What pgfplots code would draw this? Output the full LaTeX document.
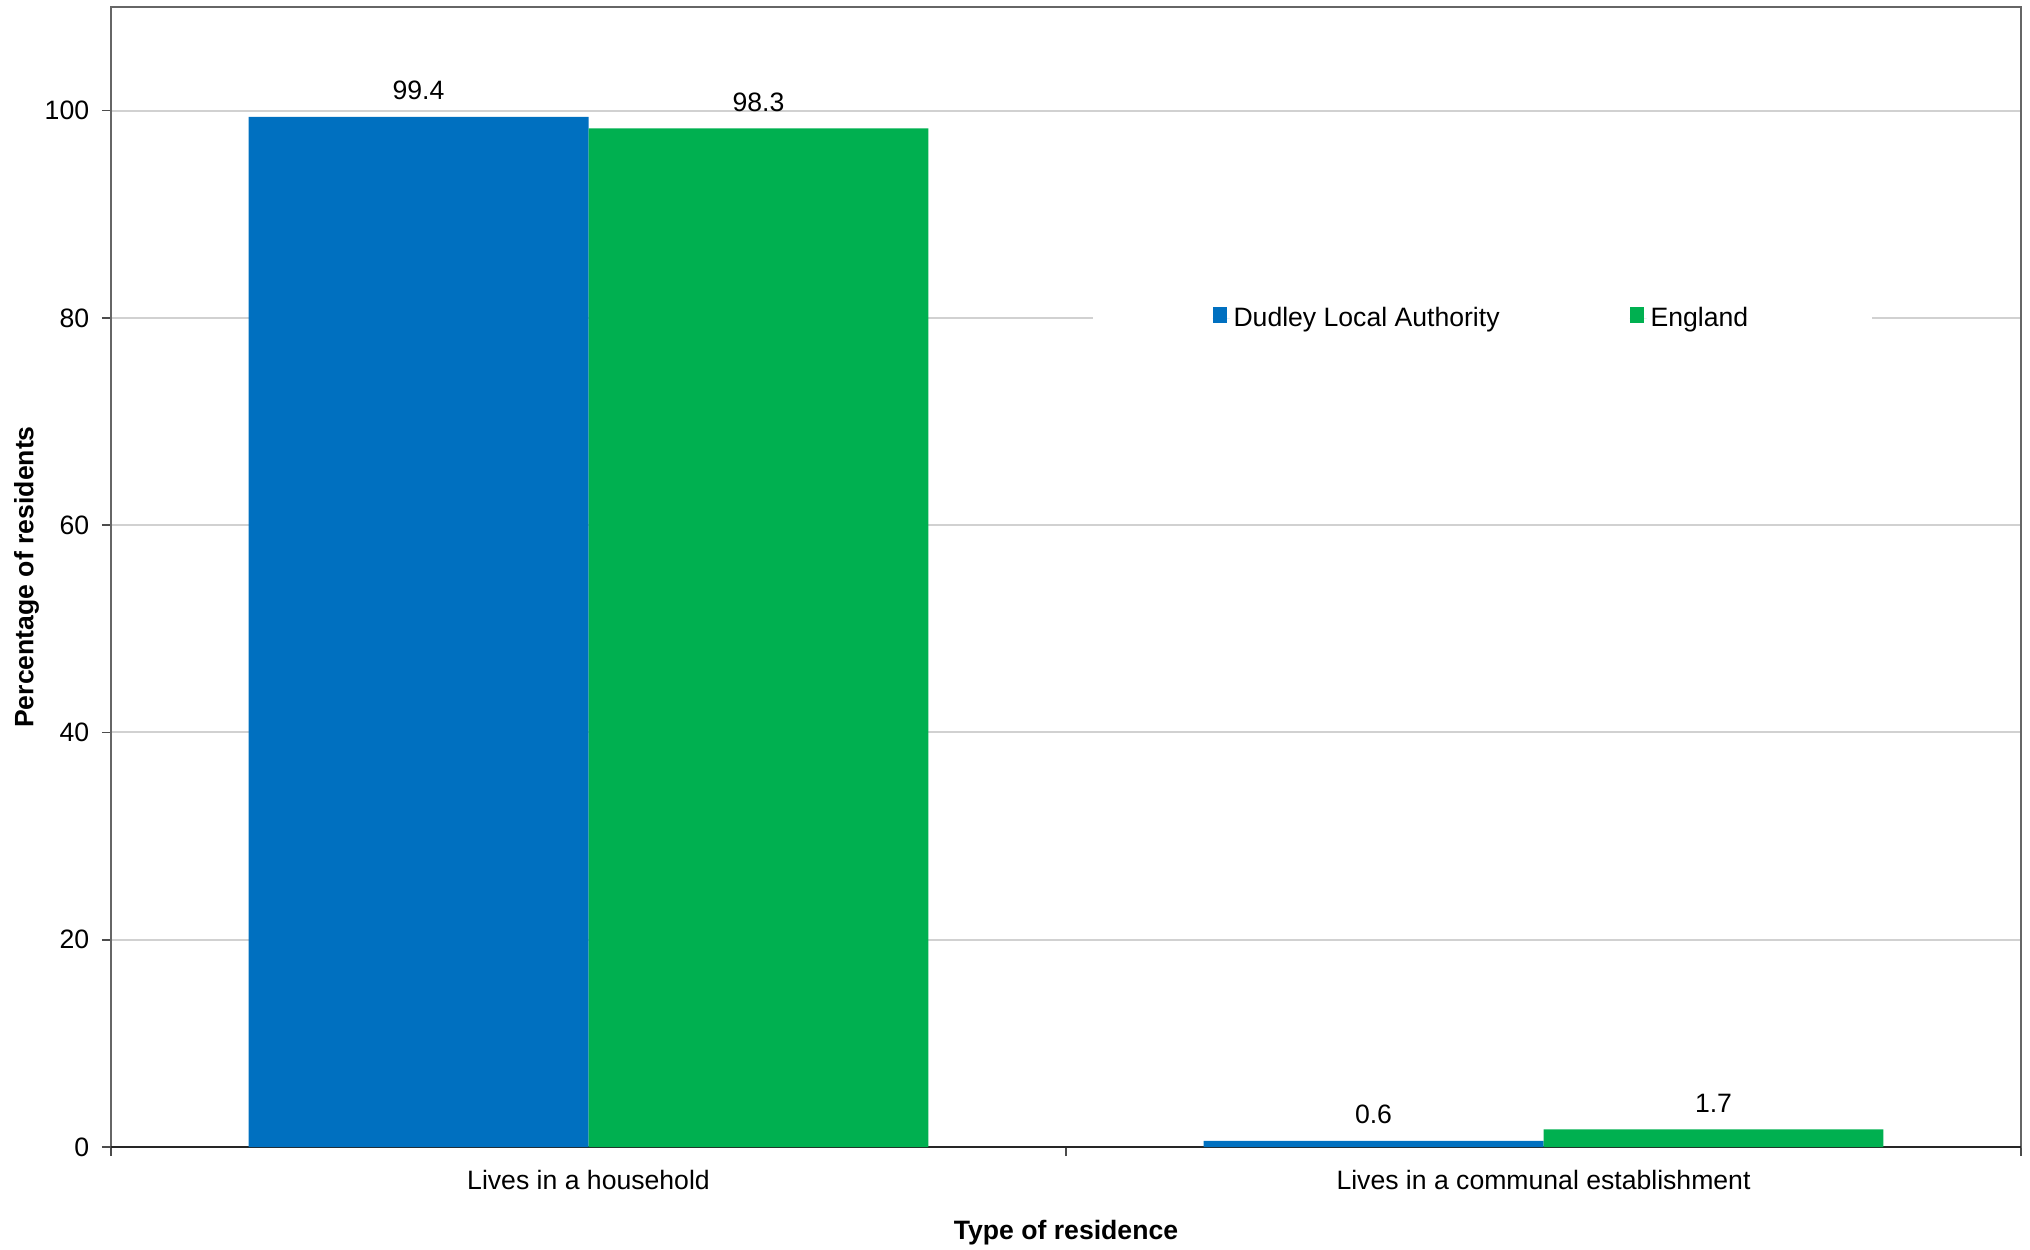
\documentclass[border=0pt]{standalone}
\usepackage{pgfplots}
\pgfplotsset{compat=1.18}
\usepackage{fontspec}
\setmainfont{Liberation Sans}
\definecolor{dblue}{HTML}{0070C0}
\definecolor{egreen}{HTML}{00B050}
\begin{document}
\begin{tikzpicture}[font=\fontsize{13.3pt}{16pt}\selectfont]
\begin{axis}[
  name=ax,
  width=955pt, height=570pt, scale only axis,
  /pgf/number format/assume math mode=true,
  ybar=0pt, bar width=0.356,
  xmin=-0.5, xmax=1.5, ymin=0, ymax=110,
  xtick={-0.5,0.5,1.5}, xticklabels={},
  extra x ticks={0,1},
  extra x tick labels={Lives in a household, Lives in a communal establishment},
  extra x tick style={major tick length=0pt, grid=none, xticklabel style={yshift=-8pt}},
  ytick={20,40,60,80,100},
  extra y ticks={0}, extra y tick labels={0},
  extra y tick style={ymajorgrids=true, major grid style={draw=black!85, line width=1.2pt}},
  ymajorgrids, grid style={draw=black!18, line width=1pt},
  xtick pos=bottom, ytick pos=left,
  tick align=outside, major tick length=4.5pt,
  tick style={draw=black!70, line width=0.8pt},
  axis line style={draw=black!60, line width=1pt},
  yticklabel style={xshift=-2.9pt},
  ylabel={\textbf{Percentage of residents}},
  xlabel={\textbf{Type of residence}},
  ylabel style={at={([xshift=-38.75pt]axis description cs:0,0.5)}, anchor=base, inner sep=0pt},
  xlabel style={at={([yshift=-46.25pt]axis description cs:0.5,0)}, anchor=base, inner sep=0pt},
  nodes near coords,
  nodes near coords style={/pgf/number format/fixed, /pgf/number format/precision=1, yshift=4.8pt, text=black},
  legend columns=2,
  legend style={at={(rel axis cs:0.718,0.727)}, anchor=center, draw=none, fill=white,
    inner xsep=60pt, inner ysep=10pt,
    /tikz/every even column/.append style={column sep=63pt}},
  legend image code/.code={\path (0pt,0pt) -- (8.5pt,0pt); \fill[#1] (0pt,-2.5pt) rectangle (7pt,5.5pt);},
]
\addplot[fill=dblue, draw=none] coordinates {(0,99.4) (1,0.6)};
\addplot[fill=egreen, draw=none] coordinates {(0,98.3) (1,1.7)};
\legend{Dudley Local Authority, England}
\end{axis}
\path ([xshift=-55.5pt,yshift=-51pt]ax.south west) rectangle ([xshift=4.5pt,yshift=3.5pt]ax.north east);
\end{tikzpicture}
\end{document}
